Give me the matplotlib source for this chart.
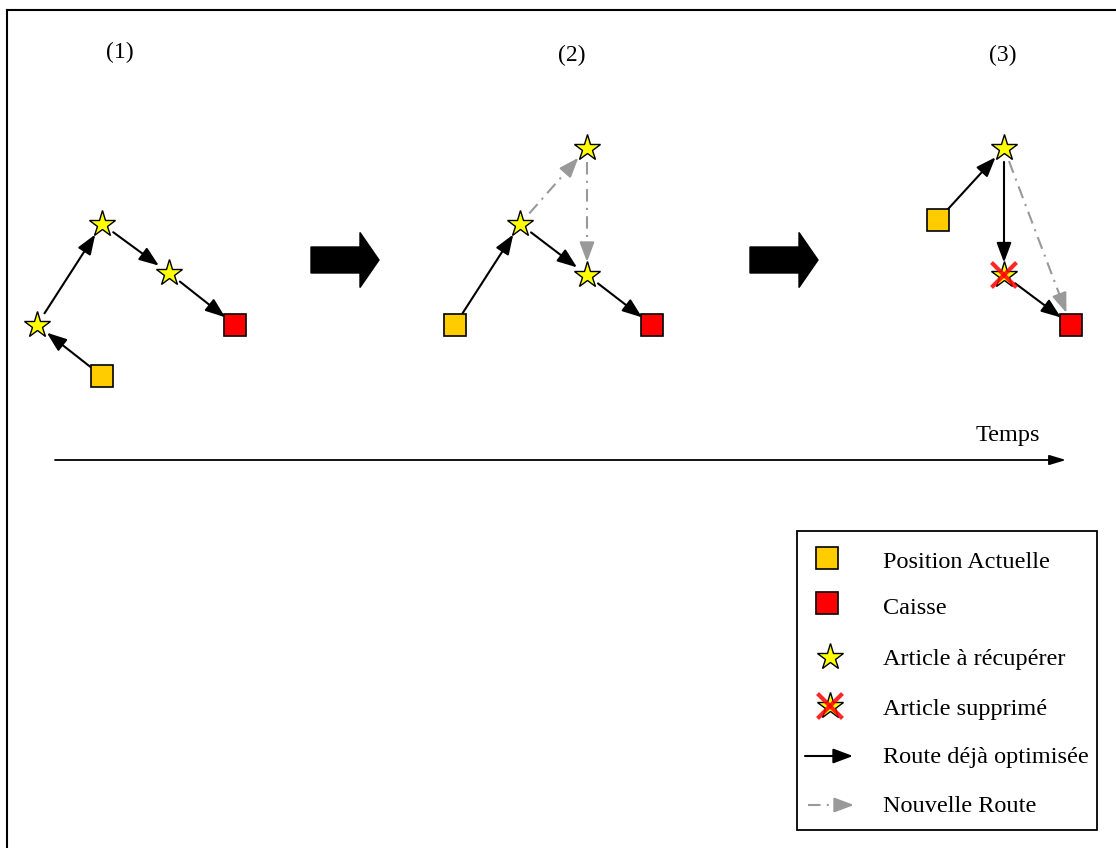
import matplotlib
matplotlib.use("Agg")
import matplotlib.pyplot as plt
import matplotlib.patches as mpatches
import numpy as np

# ---- data (pixel coordinates of the diagram nodes) ----
panel_labels = ["(1)", "(2)", "(3)"]
label_x = [120, 572, 1003]
label_y = [52, 55, 55]

# panel 1
p1_current = (102, 376)
p1_stars = [(37, 325), (102, 224), (169, 273)]
p1_caisse = (235, 325)
p1_black = [((102, 376), (37, 325)), ((37, 325), (102, 224)),
            ((102, 224), (169, 273)), ((169, 273), (235, 325))]

# panel 2
p2_current = (455, 325)
p2_stars = [(520, 224), (587, 148), (587, 275)]
p2_caisse = (652, 325)
p2_black = [((455, 325), (520, 224)), ((520, 224), (587, 275)),
            ((587, 275), (652, 325))]
p2_gray = [((520, 224), (587, 148)), ((587, 148), (587, 275))]

# panel 3
p3_current = (938, 220)
p3_stars = [(1004, 148)]
p3_removed = [(1004, 275)]
p3_caisse = (1071, 325)
p3_black = [((938, 220), (1004, 148)), ((1004, 148), (1004, 275)),
            ((1004, 275), (1071, 325))]
p3_gray = [((1004, 148), (1071, 325))]

legend_labels = ["Position Actuelle", "Caisse", "Article à récupérer",
                 "Article supprimé", "Route déjà optimisée", "Nouvelle Route"]

YELLOW = "#FFCC00"
RED = "#FF0000"
STAR = "#FFFF00"
GRAY = "#999999"
SERIF = ["Liberation Serif", "DejaVu Serif"]
HEAD = "-|>,head_length=1.2,head_width=0.45"
DASHDOT = (0, (6, 3, 1, 3))

fig = plt.figure(figsize=(11.16, 8.48), dpi=100)
ax = fig.add_axes([0, 0, 1, 1])
ax.set_xlim(0, 1116)
ax.set_ylim(848, 0)
ax.axis("off")

# frame
ax.plot([7, 7], [10, 848], color="black", lw=1.5)
ax.plot([7, 1116], [10, 10], color="black", lw=1.5)


def square(p, color, s=15.5):
    ax.plot(p[0], p[1], marker="s", ms=s, mfc=color, mec="black", mew=1.2, zorder=5)


def star(p, s=20):
    ax.plot(p[0], p[1], marker="*", ms=s, mfc=STAR, mec="black", mew=1.0, zorder=5)


def removed(p, s=20):
    star(p, s)
    d = 11
    ax.plot([p[0] - d, p[0] + d], [p[1] - d, p[1] + d], color=RED, lw=3, alpha=0.85, zorder=6)
    ax.plot([p[0] - d, p[0] + d], [p[1] + d, p[1] - d], color=RED, lw=3, alpha=0.85, zorder=6)


def arrow(a, b, sa=10, sb=9):
    ax.annotate("", xy=b, xytext=a,
                arrowprops=dict(arrowstyle=HEAD, color="black", lw=1.5,
                                shrinkA=sa, shrinkB=sb),
                zorder=4)


def gray_arrow(a, b, sa=14, sb=13):
    a = np.asarray(a, float)
    b = np.asarray(b, float)
    u = (b - a) / np.hypot(*(b - a))
    a2 = a + u * sa
    b2 = b - u * sb
    mid = b2 - u * 14
    ax.plot([a2[0], mid[0]], [a2[1], mid[1]], color=GRAY, lw=1.5, ls=DASHDOT, zorder=4)
    ax.annotate("", xy=tuple(b2), xytext=tuple(mid),
                arrowprops=dict(arrowstyle=HEAD, color=GRAY, lw=1.5,
                                shrinkA=0, shrinkB=0), zorder=4)


for a, b in p1_black + p2_black + p3_black:
    arrow(a, b)
for a, b in p2_gray + p3_gray:
    gray_arrow(a, b)

for p in (p1_current, p2_current, p3_current):
    square(p, YELLOW)
for p in (p1_caisse, p2_caisse, p3_caisse):
    square(p, RED)
for p in p1_stars + p2_stars + p3_stars:
    star(p)
for p in p3_removed:
    removed(p)

for t, x, y in zip(panel_labels, label_x, label_y):
    ax.text(x, y, t, ha="center", va="center", fontsize=17, family=SERIF)

# big transition arrows
for x0 in (311, 750):
    ax.add_patch(mpatches.FancyArrow(x0, 260, 49, 0, width=26, head_width=55,
                                     head_length=19, length_includes_head=False,
                                     color="black", zorder=3))

# time axis
ax.annotate("", xy=(1066, 460), xytext=(55, 460),
            arrowprops=dict(arrowstyle="-|>,head_length=1.0,head_width=0.3",
                            color="black", lw=1.3, shrinkA=0, shrinkB=0))
ax.text(1008, 436, "Temps", ha="center", va="center", fontsize=17.5, family=SERIF)

# legend box
ax.add_patch(mpatches.Rectangle((797, 531), 300, 299, fill=False, ec="black", lw=1.3))
square((827, 558), YELLOW)
square((827, 603), RED)
star((830, 657))
removed((830, 706))
ax.annotate("", xy=(853, 756), xytext=(805, 756),
            arrowprops=dict(arrowstyle=HEAD, color="black", lw=1.5, shrinkA=0, shrinkB=0))
gray_arrow((808, 805), (854, 805), sa=0, sb=0)
for t, y in zip(legend_labels, [562, 608, 660, 710, 757, 806]):
    ax.text(883, y, t, ha="left", va="center", fontsize=17.5, family=SERIF)

fig.savefig("out.png", dpi=100)
